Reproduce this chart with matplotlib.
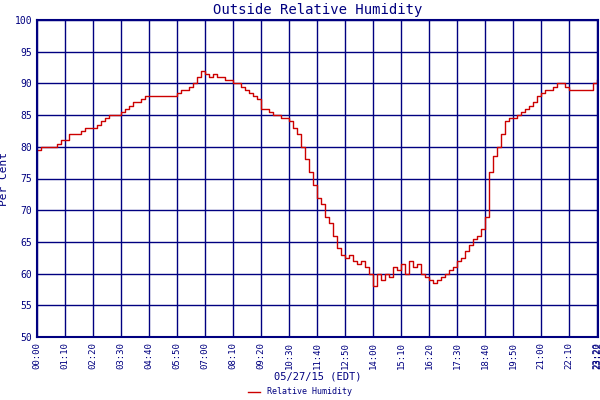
import numpy as np
import matplotlib
matplotlib.use("Agg")
import matplotlib.pyplot as plt

humidity = [79.5, 80, 80, 80, 80, 80.5,
            81, 81, 82, 82, 82, 82.5,
            83, 83, 83, 83.5, 84, 84.5,
            85, 85, 85, 85.5, 86, 86.5,
            87, 87, 87.5, 88, 88, 88,
            88, 88, 88, 88, 88, 88.5,
            89, 89, 89.5, 90, 91, 92,
            91.5, 91, 91.5, 91, 91, 90.5,
            90.5, 90, 90, 89.5, 89, 88.5,
            88, 87.5, 86, 86, 85.5, 85,
            85, 84.5, 84.5, 84, 83, 82,
            80, 78, 76, 74, 72, 71,
            69, 68, 66, 64, 63, 62.5,
            63, 62, 61.5, 62, 61, 60,
            58, 60, 59, 60, 59.5, 61,
            60.5, 61.5, 60, 62, 61, 61.5,
            60, 59.5, 59, 58.5, 59, 59.5,
            60, 60.5, 61, 62, 62.5, 63.5,
            64.5, 65.5, 66, 67, 69, 76,
            78.5, 80, 82, 84, 84.5, 84.5,
            85, 85.5, 86, 86.5, 87, 88,
            88.5, 89, 89, 89.5, 90, 90,
            89.5, 89, 89, 89, 89, 89,
            89, 90, 90.5]
minutes = np.arange(len(humidity)) * 10
tick_min = list(range(0, 1400, 70)) + [1400, 1402]
tick_lab = ["%02d:%02d" % (m // 60, m % 60) for m in tick_min]

navy = "#000080"
mono = "DejaVu Sans Mono"
fig = plt.figure(figsize=(6, 4), dpi=100)
ax = fig.add_axes([37/600, 63/400, 561/600, 317/400])
ax.plot(minutes, humidity, color="#cc0000", lw=1, drawstyle="steps-post")
ax.set_xlim(0, 1402)
ax.set_ylim(50, 100)
ax.set_yticks(range(50, 101, 5))
ax.set_xticks(tick_min)
ax.set_xticklabels(tick_lab, rotation=90, fontsize=6.5, family=mono, color=navy)
ax.tick_params(axis="y", labelsize=7, labelcolor=navy, length=0)
ax.tick_params(axis="x", length=0)
for t in ax.get_yticklabels():
    t.set_family(mono)
ax.grid(True, color=navy, lw=1)
for s in ax.spines.values():
    s.set_color(navy)
    s.set_linewidth(1.5)
ax.set_title("Outside Relative Humidity", color=navy, family=mono, fontsize=10, pad=4)
ax.set_ylabel("Per Cent", color=navy, family=mono, fontsize=8)
ax.set_xlabel("05/27/15 (EDT)", color=navy, family=mono, fontsize=7.5, labelpad=2)
ax.plot([], [], color="#cc0000", lw=1, label="Relative Humidity")
fig.legend(loc="lower center", bbox_to_anchor=(0.5, -0.01), frameon=False,
           prop={"family": mono, "size": 6}, labelcolor=navy, handlelength=1.5)
fig.savefig("out.png", dpi=100)
